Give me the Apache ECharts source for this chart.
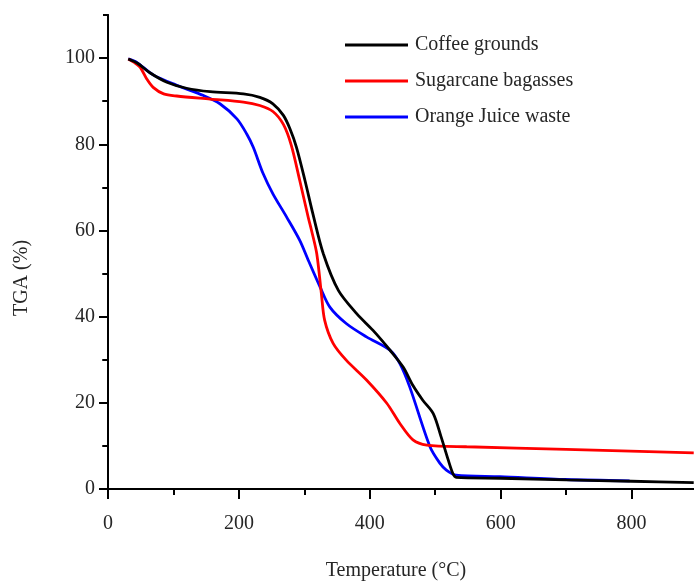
<!DOCTYPE html>
<html>
<head>
<meta charset="utf-8">
<style>
html,body{margin:0;padding:0;background:#fff;overflow:hidden;}
#c{width:694px;height:583px;}
</style>
<script src="https://cdn.jsdelivr.net/npm/echarts@6/dist/echarts.min.js"></script>
</head>
<body>
<div id="c"></div>
<script>
// Data
const seriesNames = ['Coffee grounds', 'Sugarcane bagasses', 'Orange Juice waste'];

const coffeeT = [31, 45, 64, 90, 120, 156, 207, 232, 252, 268, 278, 288, 301, 313, 329, 352, 380, 405, 431, 451, 466, 481, 497, 509, 520, 527, 532, 600, 700, 800, 895];
const coffeeV = [99.8, 98.8, 96.6, 94.4, 93.0, 92.2, 91.7, 90.9, 89.4, 86.7, 83.6, 79.3, 71.6, 63.9, 54.6, 46.1, 40.7, 36.8, 32.2, 28.3, 24.0, 20.6, 17.5, 12.1, 6.7, 3.6, 2.7, 2.5, 2.1, 1.8, 1.5];

const bagasseT = [31, 40, 49, 59, 69, 85, 105, 156, 207, 232, 252, 268, 280, 293, 306, 311, 319, 326, 331, 344, 364, 395, 426, 446, 466, 487, 548, 700, 895];
const bagasseV = [99.8, 99.0, 97.9, 95.2, 93.2, 91.7, 91.2, 90.5, 89.8, 89.0, 87.6, 84.6, 79.8, 71.6, 63.0, 60.0, 54.6, 45.4, 39.2, 33.8, 29.9, 25.3, 19.9, 15.2, 11.4, 10.2, 9.8, 9.2, 8.4];

const orangeT = [31, 44, 69, 105, 146, 171, 197, 212, 222, 237, 252, 273, 293, 306, 324, 339, 364, 395, 431, 446, 461, 492, 507, 517, 532, 599, 700, 797];
const orangeV = [99.8, 99.0, 96.1, 93.7, 91.3, 89.4, 85.9, 82.4, 79.3, 73.2, 68.5, 63.1, 57.7, 53.1, 46.9, 42.2, 38.4, 35.3, 32.2, 29.1, 23.7, 9.8, 6.0, 4.4, 3.2, 2.85, 2.2, 1.9];

const xMajorTicks = [0, 200, 400, 600, 800];
const xMinorTicks = [100, 300, 500, 700, 900];
const yMajorTicks = [0, 20, 40, 60, 80, 100];
const yMinorTicks = [10, 30, 50, 70, 90, 110];
const yRightTicks = [10, 30, 50, 70, 90];

const xTitle = 'Temperature (°C)';
const yTitle = 'TGA (%)';

function pairs(t, v) { return t.map((x, i) => [x, v[i]]); }

const FONT = '"Liberation Serif", "Times New Roman", serif';
const TXT = '#262626';
const colors = ['#000000', '#ff0000', '#0000ff'];

const chart = echarts.init(document.getElementById('c'), null, {renderer: 'canvas'});

const axisLineStyle = {show: true, lineStyle: {color: '#000', width: 2}};

const option = {
  animation: false,
  backgroundColor: '#fff',
  grid: {left: 108, top: 15, bottom: 94, right: -3, containLabel: false, outerBoundsMode: 'none'},
  legend: {
    orient: 'vertical',
    left: 345,
    top: 34,
    padding: 0,
    icon: 'rect',
    itemWidth: 63,
    itemHeight: 3,
    itemGap: 14,
    data: seriesNames,
    textStyle: {fontFamily: FONT, fontSize: 20, color: TXT, lineHeight: 22, padding: [0, 0, 0, 2]}
  },
  xAxis: [
    {
      type: 'value', position: 'bottom', min: 0, max: 900, interval: 100,
      axisLine: axisLineStyle,
      axisTick: {show: true, length: 10, lineStyle: {color: '#000', width: 2}, customValues: xMajorTicks},
      axisLabel: {show: true, customValues: xMajorTicks, margin: 25, fontFamily: FONT, fontSize: 20, color: TXT},
      splitLine: {show: false}
    },
    {
      type: 'value', position: 'bottom', min: 0, max: 900, interval: 100, offset: 0,
      axisLine: {show: false},
      axisTick: {show: true, length: 6, lineStyle: {color: '#000', width: 2}, customValues: xMinorTicks},
      axisLabel: {show: false},
      splitLine: {show: false}
    },
    {
      type: 'value', position: 'top', min: 0, max: 900, interval: 100,
      axisLine: axisLineStyle,
      axisTick: {show: false},
      axisLabel: {show: false},
      splitLine: {show: false}
    }
  ],
  yAxis: [
    {
      type: 'value', position: 'left', min: 0, max: 110, interval: 10,
      axisLine: axisLineStyle,
      axisTick: {show: true, length: 9, lineStyle: {color: '#000', width: 2}, customValues: yMajorTicks},
      axisLabel: {show: true, customValues: yMajorTicks, margin: 13, fontFamily: FONT, fontSize: 20, color: TXT},
      splitLine: {show: false}
    },
    {
      type: 'value', position: 'left', min: 0, max: 110, interval: 10, offset: 0,
      axisLine: {show: false},
      axisTick: {show: true, length: 5, lineStyle: {color: '#000', width: 2}, customValues: yMinorTicks},
      axisLabel: {show: false},
      splitLine: {show: false}
    },
    {
      type: 'value', position: 'right', min: 0, max: 110, interval: 10, offset: 0,
      axisLine: axisLineStyle,
      axisTick: {show: true, inside: true, length: 6, lineStyle: {color: '#000', width: 1.5}, customValues: yRightTicks},
      axisLabel: {show: false},
      splitLine: {show: false}
    }
  ],
  series: [
    {name: seriesNames[0], data: pairs(coffeeT, coffeeV)},
    {name: seriesNames[1], data: pairs(bagasseT, bagasseV)},
    {name: seriesNames[2], data: pairs(orangeT, orangeV)}
  ].map((s, i) => Object.assign({
    type: 'line', xAxisIndex: 0, yAxisIndex: 0,
    symbol: 'none', showSymbol: false,
    smooth: 0.3,
    color: colors[i],
    lineStyle: {color: colors[i], width: 2.8},
    z: 3 - i
  }, s)),
  graphic: [
    {
      type: 'text', x: 396, y: 571,
      style: {text: xTitle, font: '20px ' + FONT, fill: TXT, align: 'center', verticalAlign: 'middle'}
    },
    {
      type: 'text', x: 22, y: 278, rotation: Math.PI / 2,
      style: {text: yTitle, font: '20px ' + FONT, fill: TXT, align: 'center', verticalAlign: 'middle'}
    }
  ]
};
chart.setOption(option);
</script>
</body>
</html>
